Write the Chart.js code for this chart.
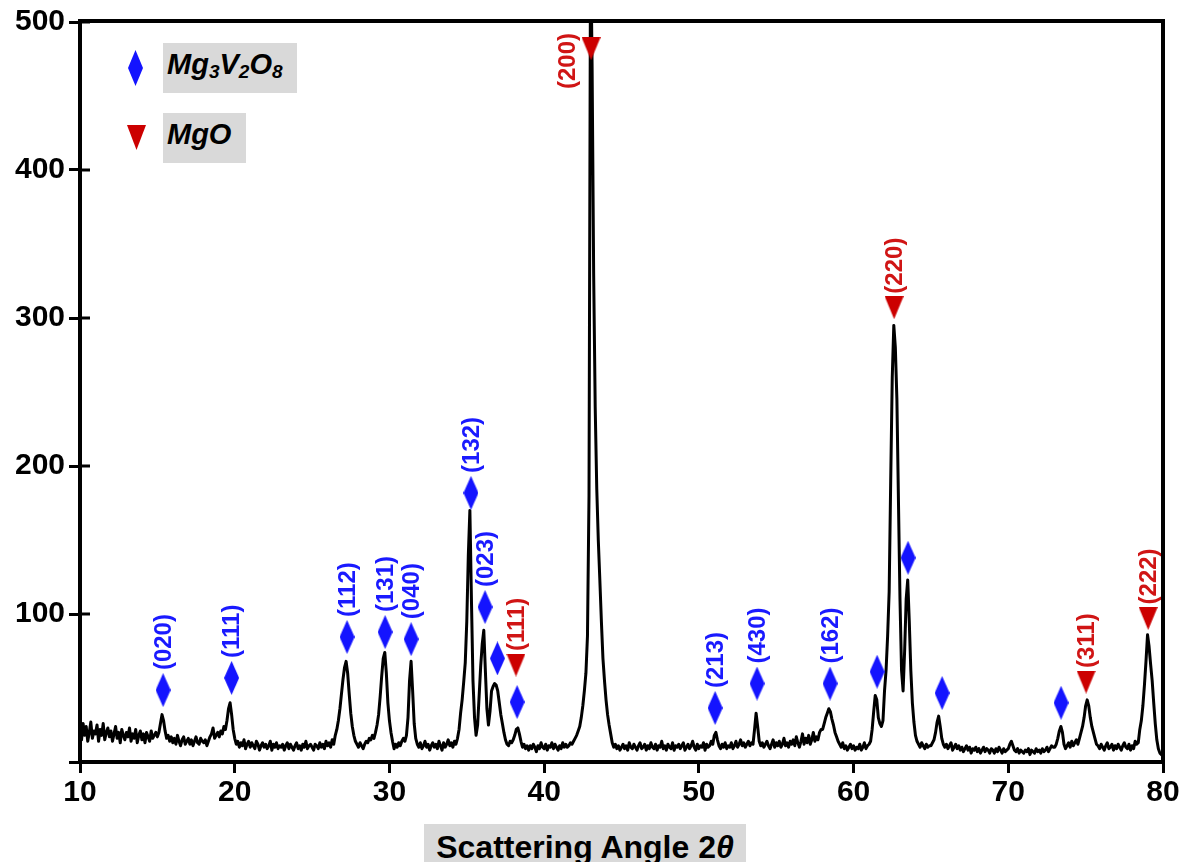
<!DOCTYPE html>
<html>
<head>
<meta charset="utf-8">
<script src="https://cdn.jsdelivr.net/npm/chart.js@4.4.1/dist/chart.umd.min.js"></script>
<style>
  body { margin: 0; background: #fff; }
  #wrap { position: relative; width: 1183px; height: 862px; overflow: hidden; }
  .key {
    position: absolute; left: 163px; height: 50px; box-sizing: border-box; padding-left: 4px;
    background: #d9d9d9; color: #000;
    font: italic bold 29px Arial, "Liberation Sans", sans-serif; line-height: 43px; white-space: nowrap;
  }
  .key sub { font-size: 19px; line-height: 0; vertical-align: -4px; }
  .diamond { position: absolute; left: 128px; top: 50px; width: 15px; height: 36px; background: #1414ff;
    clip-path: polygon(50% 0, 100% 50%, 50% 100%, 0 50%); }
  .tri { position: absolute; left: 127px; top: 125px; width: 19px; height: 25px; background: #cc0000;
    clip-path: polygon(0 0, 100% 0, 50% 100%); }
  #xtitle {
    position: absolute; left: 424px; top: 824px; width: 322px; height: 40px; background: #d9d9d9;
    text-align: center; font: bold 32px Arial, "Liberation Sans", sans-serif; line-height: 46px; white-space: nowrap;
  }
</style>
</head>
<body>
<div id="wrap">
  <canvas id="chart"></canvas>
  <div class="diamond"></div>
  <div class="key" style="top:43px; width:134px;">Mg<sub>3</sub>V<sub>2</sub>O<sub>8</sub></div>
  <div class="tri"></div>
  <div class="key" style="top:113px; width:83px;">MgO</div>
  <div id="xtitle">Scattering Angle 2<i>θ</i></div>
</div>
<script>
// 2θ sampling of the trace
const angleStart = 10;
const angleStep = 0.1;

// intensity, one row per degree (x.0 .. x.9), last value at 80.0
const intensity = [
  22,15,26,18,24,14,20,27,16,21,   // 10
  19,25,14,22,18,26,15,20,23,17,   // 11
  21,14,19,24,16,20,13,22,18,15,   // 12
  20,17,23,14,19,16,22,13,18,21,   // 13
  15,19,13,20,17,14,21,16,18,20,   // 14
  17,20,26,32,28,21,16,18,14,17,   // 15
  13,16,12,18,14,11,15,17,12,14,   // 16
  16,12,15,11,14,17,13,12,16,14,   // 17
  13,15,11,14,17,19,23,16,18,20,   // 18
  17,21,19,24,22,28,36,40,32,22,   // 19
  16,12,14,10,13,11,15,9,12,14,    // 20
  10,13,11,9,14,12,8,11,13,10,     // 21
  12,9,11,14,8,12,10,13,9,11,      // 22
  10,12,8,11,13,9,12,10,8,11,      // 23
  13,9,11,8,12,10,14,9,11,12,      // 24
  10,8,12,11,9,13,10,12,9,14,      // 25
  11,13,10,15,12,18,22,28,36,46,   // 26
  56,64,68,60,46,33,24,18,14,12,   // 27
  10,13,11,9,12,14,13,16,15,18,    // 28
  16,20,25,32,44,58,70,74,60,40,   // 29
  28,20,14,9,12,10,13,11,14,16,    // 30
  14,18,30,55,68,48,26,16,12,10,   // 31
  13,9,11,14,10,12,8,11,13,10,     // 32
  12,9,14,11,8,13,10,12,15,11,     // 33
  13,10,14,12,16,22,33,42,54,67,   // 34
  95,140,170,110,55,30,18,25,45,65, // 35
  80,89,62,36,25,34,48,51,53,52,   // 36
  48,40,32,26,20,15,12,11,14,13,   // 37
  15,18,22,23,19,14,10,12,9,11,    // 38
  8,11,9,12,10,7,11,9,13,10,       // 39
  9,12,8,11,10,13,9,12,10,8,       // 40
  11,9,13,10,12,10,11,13,12,14,    // 41
  16,18,21,24,30,38,48,60,85,180,  // 42
  560,470,330,240,185,150,123,95,70,55, // 43
  42,32,25,19,13,10,12,9,11,8,     // 44
  10,12,9,11,8,13,10,9,12,10,      // 45
  8,11,13,9,10,12,8,11,9,13,       // 46
  10,9,12,8,11,10,14,9,11,8,       // 47
  12,10,9,13,8,11,10,12,9,11,      // 48
  13,8,10,12,9,11,14,10,8,12,      // 49
  9,11,10,13,8,12,10,11,14,12,     // 50
  18,20,15,11,9,12,10,13,9,11,     // 51
  10,13,9,11,14,10,12,15,11,13,    // 52
  10,12,14,11,13,12,22,33,24,14,   // 53
  11,13,10,12,14,11,9,12,15,10,    // 54
  13,11,14,10,12,16,11,13,10,14,   // 55
  12,15,11,17,13,10,14,19,12,16,   // 56
  13,18,12,15,20,14,17,15,20,22,   // 57
  22,26,30,33,36,34,29,25,20,17,   // 58
  14,12,10,13,9,11,8,10,12,9,      // 59
  11,8,10,9,12,8,10,13,9,11,       // 60
  12,14,22,34,45,42,30,26,24,28,   // 61
  48,62,85,115,190,260,295,280,245,177, // 62
  110,62,48,75,110,123,95,62,40,27, // 63
  18,14,12,10,13,11,9,12,10,11,    // 64
  11,13,15,20,27,31,24,16,12,10,   // 65
  12,9,11,13,8,10,12,9,11,8,       // 66
  10,7,9,11,8,10,6,9,8,10,         // 67
  7,9,6,8,10,7,9,8,6,9,            // 68
  8,6,9,7,10,8,6,9,7,8,            // 69
  9,12,14,11,8,7,9,6,8,7,          // 70
  6,8,7,9,5,8,7,6,9,7,             // 71
  8,6,9,7,8,10,7,9,11,10,          // 72
  10,12,16,21,24,20,12,9,11,13,    // 73
  10,14,11,13,15,12,16,20,24,30,   // 74
  38,42,38,30,24,20,16,12,11,9,    // 75
  12,10,8,11,13,9,10,12,8,11,      // 76
  9,12,10,8,11,13,10,9,12,8,       // 77
  11,9,14,12,13,22,28,38,52,68,    // 78
  86,78,66,55,40,26,15,9,6,5,      // 79
  4                                // 80
];

// Mg3V2O8 markers (diamonds)
const mgvAngles = [15.37, 19.8, 27.26, 29.72, 31.4, 35.27, 36.18, 36.98, 38.25, 51.05, 53.76, 58.48, 61.52, 63.52, 65.72, 73.41];
const mgvMarkY  = [48.6, 56.8, 84.5, 87.8, 83, 181.8, 104.7, 70, 40.5, 36.5, 53, 53, 61, 138, 46.6, 40];
const mgvLabels = ['(020)', '(111)', '(112)', '(131)', '(040)', '(132)', '(023)', '', '', '(213)', '(430)', '(162)', '', '', '', ''];

// MgO markers (down triangles)
const mgoAngles = [38.18, 43.03, 62.62, 75.03, 79.04];
const mgoMarkY  = [65.5, 482, 307, 54, 97];
const mgoLabels = ['(111)', '(200)', '(220)', '(311)', '(222)'];

const yTicks = [100, 200, 300, 400, 500];

const BLUE = '#1414ff';
const RED = '#cc0000';
const FONT = 'Arial, "Liberation Sans", sans-serif';

function makeMarker(w, h, color, shape) {
  const c = document.createElement('canvas');
  c.width = w; c.height = h;
  const g = c.getContext('2d');
  g.fillStyle = color;
  g.beginPath();
  if (shape === 'diamond') {
    g.moveTo(w / 2, 0); g.lineTo(w, h / 2); g.lineTo(w / 2, h); g.lineTo(0, h / 2);
  } else {
    g.moveTo(0, 0); g.lineTo(w, 0); g.lineTo(w / 2, h);
  }
  g.closePath();
  g.fill();
  return c;
}
const diamondImg = makeMarker(15, 34, BLUE, 'diamond');
const triangleImg = makeMarker(19, 23, RED, 'tri');

const trace = intensity.map((v, i) => ({ x: angleStart + i * angleStep, y: v }));

// frame, inward y ticks and the rotated hkl labels
const overlayPlugin = {
  id: 'overlay',
  afterDatasetsDraw(chart) {
    const { ctx, chartArea: a, scales: { x, y } } = chart;
    ctx.save();
    ctx.strokeStyle = '#000';
    ctx.lineWidth = 4;
    ctx.strokeRect(a.left, a.top - 1, a.right - a.left, a.bottom - a.top + 1);
    ctx.lineWidth = 3;
    yTicks.forEach(v => {
      const py = y.getPixelForValue(v);
      ctx.beginPath();
      ctx.moveTo(a.left, py);
      ctx.lineTo(a.left + 10, py);
      ctx.stroke();
    });

    ctx.font = 'bold 24px ' + FONT;
    ctx.textBaseline = 'middle';
    const drawLabels = (angles, ys, labels, color, halfH) => {
      ctx.fillStyle = color;
      labels.forEach((txt, i) => {
        if (!txt) return;
        const px = x.getPixelForValue(angles[i]);
        const py = y.getPixelForValue(ys[i]);
        const len = ctx.measureText(txt).width;
        ctx.save();
        if (py - halfH - 3 - len < a.top) {
          // no room above the marker: put it to the left, hanging from the top
          ctx.translate(px - 23, a.top + 11);
          ctx.rotate(-Math.PI / 2);
          ctx.textAlign = 'right';
        } else {
          ctx.translate(px + 1, py - halfH - 3);
          ctx.rotate(-Math.PI / 2);
          ctx.textAlign = 'left';
        }
        ctx.fillText(txt, 0, 0);
        ctx.restore();
      });
    };
    drawLabels(mgvAngles, mgvMarkY, mgvLabels, '#1a1aff', 17);
    drawLabels(mgoAngles, mgoMarkY, mgoLabels, '#d01515', 11);
    ctx.restore();
  }
};

new Chart(document.getElementById('chart'), {
  type: 'line',
  data: {
    datasets: [
      {
        label: 'XRD',
        data: trace,
        borderColor: '#000',
        borderWidth: 3,
        borderJoinStyle: 'round',
        pointRadius: 0,
        tension: 0,
        order: 2,
      },
      {
        type: 'scatter',
        label: 'Mg3V2O8',
        data: mgvAngles.map((v, i) => ({ x: v, y: mgvMarkY[i] })),
        pointStyle: diamondImg,
        pointRadius: 10,
        order: 1,
      },
      {
        type: 'scatter',
        label: 'MgO',
        data: mgoAngles.map((v, i) => ({ x: v, y: mgoMarkY[i] })),
        pointStyle: triangleImg,
        pointRadius: 10,
        order: 1,
      },
    ],
  },
  options: {
    responsive: true,
    maintainAspectRatio: false,
    animation: false,
    layout: { padding: { top: 22, right: 20, left: 0, bottom: 0 } },
    plugins: { legend: { display: false }, tooltip: { enabled: false } },
    scales: {
      x: {
        type: 'linear',
        min: 10, max: 80,
        afterFit: s => { s.height = 100; },
        border: { display: false },
        grid: { drawOnChartArea: false, drawTicks: true, tickLength: 11, tickWidth: 3, color: '#000' },
        ticks: { stepSize: 10, color: '#000', padding: 2, font: { size: 30, weight: 'bold', family: FONT } },
      },
      y: {
        min: 0, max: 500,
        afterFit: s => { s.width = 80; },
        border: { display: false },
        grid: { drawOnChartArea: false, drawTicks: true, tickLength: 11, tickWidth: 3, color: '#000' },
        ticks: {
          stepSize: 100, color: '#000', padding: 4,
          font: { size: 30, weight: 'bold', family: FONT },
          callback: v => (v === 0 ? '' : v),
        },
      },
    },
  },
  plugins: [overlayPlugin],
});
</script>
</body>
</html>
